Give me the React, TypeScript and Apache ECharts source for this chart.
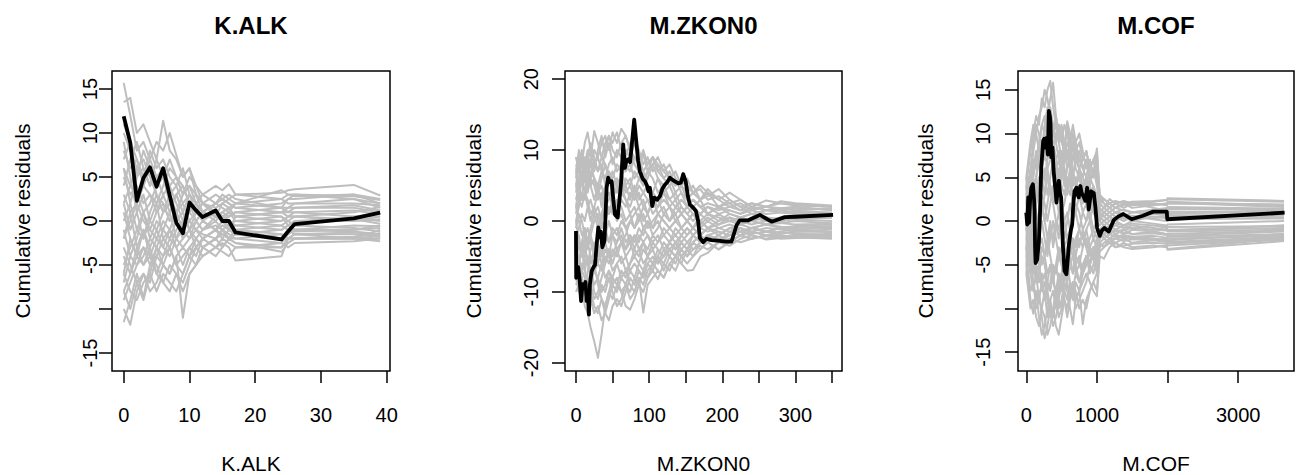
import React, { useEffect, useRef } from "react";
import * as echarts from "echarts";

// ---------------- Panel 1: K.ALK ----------------
const KALK_X = [0, 1, 2, 3, 4, 5, 6, 7, 8, 9, 10, 11, 12, 14, 15, 16, 17, 24, 25, 26, 35, 39];
const KALK_OBS = [11.9, 8.9, 2.3, 4.9, 6.1, 3.9, 6.0, 2.9, -0.2, -1.4, 2.1, 1.2, 0.45, 1.2, 0, 0, -1.3, -2.1, -1.2, -0.35, 0.3, 0.95];
const KALK_SIM = [
  [15.7, 12, 8, 9, 7, 5, 6, 4, 5, 3, 4, 3, 2, 1.5, 2, 2.5, 3, 3.2, 3.5, 3.6, 4.1, 2.9],
  [13.5, 14, 10, 11, 9, 7, 11.4, 8, 7, 5, 6, 4, 3, 2, 3, 2.5, 2, 1.5, 2.5, 2.5, 3, 2],
  [-11.5, -9, -6, -8.7, -5, -3, -4, -2, -3, -2, -1, -2, -3, -2, -1.5, -2, -2.5, -3.5, -2.5, -2, -2, -2.3],
  [-10, -11.8, -8, -6, -7, -4, -5, -6, -4, -11, -6, -5, -4, -3, -2.5, -3, -4.5, -4, -2, -1.5, -1.5, -1.8],
  [8, 6, 7, 5, 8, 6, 7, 5, 4, 6, 3, 2, 3, 4, 3.5, 4.2, 3, 2.5, 2, 2, 2.5, 1.5],
  [-8, -6, -4, -5, -3, -6, -4, -3, -5, -4, -3, -2, -1, 0, -1, -0.5, -1, -2, -1.5, -1, -1, -0.8],
  [5, 3, 4, 2, 3, 1, 2, 0, 1, -1, 0, 1, 0.5, 1, 0, 0.5, 1, 1.5, 1, 1, 1.2, 0.8],
  [-5, -3, -1, -2, 0, -1, 1, 2, 0, 1, -1, 0, -1, -0.5, -1, -1.5, -2, -2.5, -1.5, -1, -1.2, -1.5],
  [2, 4, 6, 5, 7, 9, 8, 10, 7.5, 5, 6, 3, 2, 3, 2.5, 2, 1.5, 1, 1, 1.5, 1.8, 1.2],
  [-3, -5, -7, -6, -8, -7, -5, -6, -4, -3, -4, -3, -2, -1, -2, -1, -0.5, 0, 0.5, 0.5, 0.2, -0.3],
  [0, 2, -1, 1, -2, 0, -1, 1, -2, -3, -2, -1, 0, -1, 0, -0.5, 0, 0.5, -0.5, 0, 0.3, 0],
  [7, 9, 5, 6, 4, 5, 3, 4, 2, 0, 1, 2, 1, 2, 1.5, 1, 2, 2.5, 3, 3, 2.8, 2.4],
  [-6, -8, -9, -7, -6, -8, -6, -7, -8, -6, -4, -5, -3, -2, -3, -2, -1.5, -2, -1, -0.5, -0.8, -1.2],
  [3, 1, 2, 0, -1, -2, -3, -1, -2, 0, 1, 0, 1, 0.5, 1, 1.5, 0.5, 0, 0.5, 1, 0.5, 0.5],
  [-2, 0, 2, 4, 3, 2, 4, 6, 5, 3, 4, 2, 1, 0, 1, 0.5, 1, 0.5, 0, -0.5, 0.5, 0.8],
  [10, 8, 6, 7, 5, 3, 2, 0, 1, 2, 0, -1, -2, -1, -1.5, -2, -1, -1.5, -2, -2, -2, -2],
  [-7, -4, -5, -3, -4, -2, 0, -1, -3, -5, -3, -4, -2, -3, -2, -2.5, -3, -3, -2, -1.5, -2, -1],
  [6, 4, 3, 1, 2, 4, 5, 3, 4, 2, 3, 1, 2, 1, 0.5, 1, 0, -0.5, 0, 0.5, 1, 1.6],
  [-9, -7, -5, -4, -2, -3, -1, -2, 0, -2, -1, -3, -2, -1, -0.5, -1, -1.5, -1, -0.5, -1, -0.5, -0.6],
  [1, -2, -4, -3, -5, -4, -2, -3, -1, 0, 2, 1, 0, 1, 0.5, 0, -0.5, -1, -0.5, 0, 0, 0.2],
  [4, 7, 9, 6, 4, 7, 5, 7, 5, 4, 2, 3, 1, 2, 2.5, 3, 2.5, 1.5, 1.5, 2, 2, 1.8],
  [-4, -6, -3, -1, -4, -5, -7, -5, -6, -7, -5, -3, -4, -3, -3.5, -4, -3, -2.5, -3, -2.5, -2.3, -2],
  [9, 5, 1, 3, 0, 2, -2, -1, 1, -1, -2, 0, -1, 0.5, 0, -1, 0.5, 1, 1.5, 1.5, 1.5, 1],
  [-1, -4, -2, 1, -1, 1, 3, 1, 3, 1, -1, 1, 2, 0.5, 2, 1.5, 2, 3.5, 3, 2.8, 3, 2.5],
  [6, 2, 5, 8, 6, 3, 1, 3, 1, 3, 5, 4, 2, 1, 0, -1, -1.5, -2, -1, -1.5, -1.3, -1.6],
  [-8, -10, -7, -9, -6, -3, -5, -3, -5, -6, -4, -2, -3, -2, -1, -2, -2, -1.5, -2.5, -2, -1.8, -1.4],
  [2, -1, 1, -2, 1, 3, 1, 2, 3, 4, 2, 0, 1, 2, 2.5, 2, 1.5, 2, 2.5, 3, 2.5, 2],
  [-6, -2, -4, -1, -3, -1, -3, -4, -2, -1, 0, -1, -1.5, -2, -1, -2, -1, -0.5, -1, -1.2, -1, -0.5],
  [11, 9, 7, 4, 6, 4, 5, 2, 3, 1, 3, 2, 0, -1, 0, 1, 0.5, 1, 0.5, 0.5, 0, 0.5],
  [-2, 1, -3, -5, -4, -6, -7, -8, -6, -8, -6, -5, -3, -4, -3, -2, -2.5, -3, -2, -2, -2, -1.7],
];
const KALK_XTICKS = [0, 10, 20, 30, 40];
const KALK_YTICKS = [-15, -10, -5, 0, 5, 10, 15];
const KALK_YLABELS = [-15, -5, 0, 5, 10, 15];

// ---------------- Panel 2: M.ZKON0 ----------------
const ZKON_OBS_X = [0, 0.3, 2, 3, 5, 7, 9, 11, 13, 14.6, 16, 17.7, 19, 21.4, 24, 26, 28.3, 30.5, 32, 34, 36, 39, 41.9, 44, 46, 48.8, 51, 53.3, 57, 59, 61.5, 64.6, 67, 69, 71.5, 74, 76, 79.6, 82.8, 85, 87.4, 91, 94.3, 97, 99, 101, 104.3, 107, 111, 114.8, 118, 121.6, 125, 128.4, 132, 135.2, 140, 143.4, 146.6, 150, 153, 155.7, 160, 164, 167, 169.4, 174, 178.5, 185, 196.7, 205, 212.6, 216, 219.5, 224, 235.5, 251.4, 267.4, 285.5, 300, 351.5];
const ZKON_OBS_Y = [-1.4, -8, -7, -6.5, -8.2, -11.3, -8.9, -9.3, -8.6, -11.3, -10, -13.2, -9, -7.1, -6.5, -6.2, -3.3, -0.9, -2.3, -1.5, -3.7, -2.8, 4.7, 6.1, 5.5, 5.6, 3, 0.9, 0.5, 2.5, 5.2, 10.8, 7.5, 8.5, 8.7, 8.3, 10.4, 14.3, 10.8, 8.5, 7, 6, 5.6, 5, 4.2, 4.7, 2.1, 3.3, 3, 3.5, 4.5, 5.1, 5.5, 6.1, 5.8, 5.6, 5.3, 5.4, 6.6, 5.6, 3.5, 2.3, 1.9, 1.4, 0, -2.4, -3.0, -2.5, -2.7, -2.8, -2.9, -2.9, -1.8, -0.6, 0.1, 0.1, 0.85, -0.1, 0.55, 0.6, 0.85];
const ZKON_X = [0, 4, 8, 12, 16, 20, 25, 30, 35, 40, 45, 50, 56, 62, 68, 74, 80, 86, 92, 98, 105, 112, 120, 128, 136, 144, 152, 160, 170, 180, 195, 210, 225, 240, 260, 280, 300, 350];
const ZKON_SIM = [
  [6, 9, 8, 11, 12.5, 10, 8, 9, 7, 10, 12, 11, 12.5, 10, 9, 11, 12, 10, 8, 9, 7, 8, 6, 7, 5, 6, 5, 4, 4.5, 3, 3.5, 2.5, 3, 2, 2.9, 2.5, 2.2, 2],
  [-8, -10, -9, -12, -13, -15, -17, -19.3, -16, -12, -10, -8, -9, -7, -8, -6, -5, -6, -4, -5, -3, -4, -5, -3, -4, -2, -3, -4, -3, -2, -2.5, -2, -1.5, -2, -2.5, -2, -2.3, -2.5],
  [3, 5, 7, 6, 9, 8, 10, 9, 11, 12, 10, 12.5, 11, 13, 12, 10, 9, 8, 9.4, 7, 8, 6, 5, 6, 4, 5, 3, 4, 3, 4.5, 3, 2, 2.5, 1.5, 2, 1.8, 1.5, 1.8],
  [-6, -8, -10, -9, -11, -10, -12, -13, -11, -12, -10, -11, -9, -10, -12, -12.5, -11, -9, -10, -8, -7, -8.2, -6, -7, -5, -6, -7, -6.9, -5, -4.5, -3, -3.5, -2.5, -2, -2.6, -2.4, -2.2, -2.3],
  [0, 2, 4, 3, 5, 7, 6, 4, 5, 3, 4, 2, 1, 3, 2, 4, 3, 5, 4, 3, 2, 3, 1, 2, 0, 1, 2, 1, 0, 1, 0.5, 0, 0.5, 1, 0.5, 0, 0.3, 0.5],
  [-2, -4, -3, -6, -5, -7, -9, -8, -10, -9, -7, -8, -6, -5, -7, -6, -4, -5, -3, -4, -2, -3, -1, -2, -3, -2, -1, -2, -1, 0, -1, -0.5, -1, -1.5, -1, -1.2, -1.5, -1.2],
  [8, 7, 9, 8, 10, 9, 12.7, 11, 9, 8, 6, 7, 5, 6, 4, 5, 3, 4, 2, 3, 1, 2, 3, 2, 1, 2, 1, 0, 1, 2, 1.5, 2, 1.5, 2.5, 2, 1.5, 1.2, 1],
  [-5, -7, -8, -10, -9, -11, -13, -12, -14, -13, -11, -9, -10, -8, -9, -7, -8, -6, -7, -5, -6, -4, -5, -3, -4, -3, -4, -3, -2, -3, -2, -3, -2, -1.5, -2, -1.5, -1.8, -2],
  [2, 0, -2, -1, -3, -2, 0, 1, -1, 0, 2, 1, 3, 2, 0, 1, -1, 0, 1, -1, 0, 1, 0, -1, 0, 1, 0, 1, 0, -1, 0, 0.5, 0, -0.5, 0, 0.5, 0.2, 0],
  [5, 8, 6, 9, 7, 8, 6, 5, 7, 6, 8, 9, 7, 8, 10, 9, 11, 9, 7, 8, 9, 7, 8, 6, 7, 5, 4, 5, 3, 4, 2, 3, 2, 1, 1.5, 1.2, 1, 0.8],
  [-4, -2, -5, -4, -6, -4, -3, -5, -4, -2, -3, -1, -2, 0, -1, -3, -2, -4, -3, -5, -4, -6, -5, -4, -5, -3, -4, -2, -3, -2, -3, -1.5, -2, -1, -1.5, -1, -0.8, -1],
  [7, 5, 3, 4, 2, 3, 1, 2, 0, 2, 1, 3, 5, 4, 6, 5, 7, 6, 5, 7, 6, 4, 5, 3, 4, 2, 1, 2, 1, 2, 1, 1.5, 1, 2, 1.5, 1.8, 2, 1.5],
  [-9, -8, -6, -7, -5, -6, -4, -6, -7, -5, -6, -4, -5, -3, -4, -2, -3, -1, -2, 0, -1, 1, 0, -1, 0, -1, -2, -1, -2, -1, -1.5, -2, -1.5, -1, -0.5, -0.8, -1, -0.7],
  [4, 6, 8, 7, 9, 6, 5, 3, 4, 2, 3, 5, 4, 6, 8, 7, 9, 8, 10, 8, 9, 7, 6, 5, 6, 4, 3, 2, 3, 1, 2, 1, 0.5, 1, 0.5, 0.3, 0.5, 0.5],
  [-7, -9, -11, -10, -8, -9, -7, -8, -6, -4, -5, -7, -6, -8, -7, -9, -10, -8, -12.9, -9, -8, -7, -8, -6, -5, -4, -5, -3, -4, -3, -4, -3, -2, -2.5, -2, -2.2, -2, -2.2],
  [1, 3, 2, 4, 3, 1, 2, 0, -2, -1, -3, -2, -4, -3, -5, -4, -2, -3, -1, -2, -3, -2, -4, -3, -2, -3, -2, -1, -2, -3, -2, -1, -1.5, -1, -0.5, -1, -0.7, -0.5],
  [9, 7, 5, 6, 4, 6, 8, 7, 9, 11, 12, 10, 9, 11, 12, 10, 8, 7, 6, 7, 9, 8, 7, 6, 5, 6, 5, 4, 3, 3.5, 4.5, 3, 2, 2.5, 2, 2.8, 2.5, 2.2],
  [-1, 1, 0, -2, -1, -3, -5, -4, -6, -8, -7, -9, -8, -10, -9, -11, -10, -8, -9, -7, -6, -7, -8, -6, -7, -5, -6, -5, -4, -3, -4, -3, -2, -2.5, -2, -2.5, -2.4, -2.3],
  [-3, -1, 1, 0, 2, 0, 2, 4, 3, 5, 7, 6, 8, 7, 5, 6, 4, 2, 3, 1, 3, 2, 4, 3, 2, 3, 2, 3, 2, 1, 0, 1, 0.5, 0, -0.5, 0, 0.3, 0.5],
  [-10, -9, -7, -8, -10, -9, -11, -10, -8, -6, -4, -5, -3, -2, -4, -3, -5, -4, -6, -5, -6, -5, -3, -4, -3, -5, -4, -3, -2, -1, -2, -1, -0.5, -1, -1.5, -1, -1.3, -1.6],
  [2, 5, 3, 7, 5, 9, 7, 10, 12, 9, 11, 8, 10, 9, 7, 8, 6, 7, 5, 6, 8, 9, 7, 8, 6, 5, 6, 4, 5, 4, 3, 4, 3, 2, 1.5, 1.5, 1.8, 1.6],
  [-3, -6, -4, -7, -9, -7, -10, -11, -9, -10, -8, -10, -12, -11, -9, -10, -8, -9, -7, -8, -6, -5, -7, -5, -6, -4, -5, -4, -3.5, -4, -3, -2.5, -3, -2.5, -2, -2.2, -2, -1.8],
  [5, 3, 6, 4, 7, 5, 3, 5, 2, 4, 6, 4, 2, 4, 3, 1, 2, 0, 2, 1, 3, 1, 2, 0, 1, -1, 0, -1, 0, -1, -0.5, 0, -0.5, 0.5, 0, -0.3, 0, -0.3],
  [-7, -5, -7, -5, -3, -5, -7, -6, -4, -6, -4, -6, -4, -6, -5, -7, -6, -7, -8, -6, -7, -5, -6, -4, -5, -6, -4, -5, -3, -2, -3, -2, -1, -1.5, -2, -1.8, -1.5, -1.5],
  [-4, -6, -3, -1, -3, -1, 1, -1, 1, 3, 1, 2, 0, 1, -1, 0, 1, 2, 0, 1, -1, 0, -2, -1, -2, -1, 0, -1, 1, 0, 1, 0, 0.5, 0, 0.5, 0, 0.5, 0.8],
  [9, 8, 10, 7, 9, 11, 9, 7, 8, 5, 7, 5, 6, 4, 5, 3, 5, 3, 4, 5, 4, 6, 4, 5, 3, 4, 2, 3, 2, 1, 2, 1.5, 1, 1.5, 1, 1.2, 1.4, 1.2],
  [-6, -3, -5, -2, -4, -2, -4, -2, 0, -2, 0, -2, -1, -3, -2, 0, -1, 1, -1, 0, -2, -1, 1, 0, 2, 1, 0, 1, -0.5, 0.5, -0.5, 0.5, -0.5, 0, -0.5, -0.3, -0.5, -0.4],
  [0, -3, -5, -3, -6, -8, -6, -9, -11, -13, -14, -12, -11, -12, -10, -8, -9, -7, -8, -6, -5, -6, -4, -5, -3, -4, -3, -2, -3, -2, -1.5, -2, -1.5, -1, -1.5, -1, -1.2, -1],
  [7, 10, 8, 6, 8, 5, 6, 4, 6, 8, 6, 4, 6, 5, 3, 2, 4, 6, 7, 5, 4, 3, 4, 2, 3, 1, 2, 3, 2, 2.5, 2, 2.5, 1.5, 1.8, 2, 2.5, 2.3, 2],
  [-8, -6, -8, -10, -7, -5, -6, -3, -5, -3, -5, -2, -3, -1, -3, -2, -4, -2, -3, -2, -4, -3, -2, -3, -1, -2, -1, -2, -1, -1.5, -1, -1.5, -1, -1.8, -1.5, -1.6, -1.8, -2],
];
const ZKON_XTICKS = [0, 50, 100, 150, 200, 250, 300, 350];
const ZKON_XLABELS = [0, 100, 200, 300];
const ZKON_YTICKS = [-20, -10, 0, 10, 20];

// ---------------- Panel 3: M.COF ----------------
const COF_OBS_X = [0, 14, 28, 40, 55, 71, 94, 110, 118, 125, 132, 155, 179, 195, 212, 225, 240, 255, 273, 287, 306, 320, 334, 344, 353, 372, 385, 400, 414, 428, 445, 462, 478, 494, 518, 541, 569, 589, 603, 617, 633, 650, 667, 683, 711, 727, 744, 766, 785, 805, 838, 862, 885, 918, 956, 980, 1003, 1041, 1070, 1106, 1168, 1239, 1300, 1374, 1493, 1650, 1798, 1990, 1996, 3658];
const COF_OBS_Y = [0.95, -0.4, 2.7, -0.2, 2.5, 3.8, 4.2, 2.5, 1.1, -3, -4.8, -4.4, -2.3, 1, 6.1, 7.5, 9.2, 9.4, 8.4, 9.5, 7.6, 12.6, 12, 11.1, 7.3, 8.4, 6, 4.6, 3.5, 2.1, 3.5, 4.6, 3.2, 2.7, -2.7, -5.7, -6.1, -4.2, -2.8, -1.9, -1, -0.4, 2, 3.4, 3.8, 3, 2.7, 4.0, 3.2, 2.9, 2.3, 3.8, 1.3, 3.4, 3.2, 1.5, -0.8, -1.7, -1.1, -0.8, -1.2, 0.1, 0.5, 0.8, 0.2, 0.6, 1.07, 1.07, 0.2, 0.95];
const COF_X = [0, 30, 60, 100, 140, 180, 220, 260, 300, 340, 380, 420, 460, 500, 540, 580, 620, 660, 700, 750, 800, 850, 900, 950, 1000, 1040, 1100, 1180, 1260, 1380, 1500, 1800, 1990, 2000, 3650];
const COF_SIM = [
  [4, 6, 8, 10, 12, 11, 14, 13, 15, 16, 13, 11, 9, 10, 8, 11, 9, 7, 8, 6, 5, 7, 6, 7, 8, 2.5, 2, 1.5, 2, 2.3, 2, 2.2, 2.4, 2.6, 2.3],
  [-5, -7, -9, -10.6, -8, -11, -13, -12, -10, -9, -11, -8, -10, -9, -7, -8, -10, -11.8, -9, -8, -7, -6, -7, -8, -8.6, -4, -4.3, -3, -2.5, -3, -3.2, -3, -2.8, -3.3, -2.3],
  [1, 3, 5, 7, 6, 9, 11, 10, 12, 14, 15.8, 12, 10, 11, 9, 8, 7, 9, 6, 5, 4, 5, 3, 4, 2, 1, 1.5, 1, 1.5, 1.2, 1, 1.3, 1.5, 1.6, 1.4],
  [-3, -5, -4, -7, -9, -8, -11, -13.4, -12, -10, -11, -9, -7, -8, -6, -7, -5, -6, -4, -5, -6, -4, -5, -3, -4, -2, -1.5, -2, -2.5, -2, -1.8, -2, -2.2, -2.4, -1.8],
  [2, 4, 3, 6, 8, 7, 9, 8, 10, 9, 8, 10, 11, 9, 8, 11.4, 10, 8, 9, 7, 6, 5, 4, 6, 5, 1.5, 1, 0.5, 1, 0.8, 0.5, 0.8, 1, 1.1, 1],
  [-6, -4, -6, -5, -7, -6, -4, -5, -7, -8, -6, -9, -11, -10, -8, -9, -7, -8, -10, -9, -8, -7, -5, -6, -4, -2.5, -3, -2, -1.5, -2, -2.5, -2.2, -2, -2.2, -1.5],
  [5, 3, 6, 9, 11, 10, 8, 11, 13, 12, 10, 9, 11, 10, 7, 8, 6, 5, 7, 6, 4, 3, 5, 4, 3, 1, 0.5, 1, 0.5, 0.3, 0.5, 0.2, 0, 0.2, 0.3],
  [0, -2, 0, -3, -5, -7, -6, -9, -8, -10, -12, -11, -9, -10, -8, -7, -9, -8, -6, -7, -5, -4, -6, -5, -3, -1, -2, -1.5, -1, -1.5, -1, -1.2, -1.5, -1.7, -1.2],
  [3, 1, -1, 1, 3, 5, 4, 6, 5, 3, 4, 2, 3, 1, 2, 4, 3, 5, 4, 6, 3, 4, 2, 1, 2, 0.5, 0, 0.5, 1, 0.5, 0, 0.5, 0.3, 0.5, 0.6],
  [-4, -6, -8, -7, -10, -9, -7, -6, -8, -7, -5, -6, -4, -5, -3, -4, -2, -3, -5, -4, -6, -5, -3, -2, -3, -1.5, -1, -0.5, -1, -0.5, -0.8, -0.5, -0.8, -1, -0.8],
  [-1, 1, 3, 2, 4, 3, 6, 5, 7, 9, 8, 6, 7, 5, 6, 4, 5, 7, 8, 6, 7, 8, 6, 7, 6, 2, 2.5, 2, 1.5, 2, 1.5, 1.8, 2, 2.2, 1.8],
  [4, 2, 0, -2, -1, -3, -2, -4, -3, -1, -2, 0, -1, 1, 0, -2, -1, -3, -2, -1, -2, -3, -2, -1, -2, -1, -0.5, -1, -0.5, -0.8, -0.5, -0.8, -1, -1.1, -0.5],
  [-2, 0, 2, 4, 5, 7, 8, 7, 9, 11, 10, 12, 10, 9, 11, 10, 8, 9, 7, 8, 6, 7, 5, 6, 4, 2, 1.5, 2, 1.5, 1.8, 2, 1.5, 1.2, 1.4, 1.2],
  [-5, -3, -1, -4, -6, -5, -8, -7, -9, -11, -10, -12, -13, -11, -9, -10, -8, -7, -9, -8, -11.8, -9, -8, -7, -6, -3, -2.5, -2, -3, -2.5, -3, -2.8, -3, -3.2, -2],
  [1, -1, 2, 0, -2, 1, 3, 2, 0, 2, 4, 3, 1, 2, 0, 1, -1, 0, 2, 1, -1, 0, 1, -1, 0, -0.5, 0, 0.5, 0, -0.5, 0, -0.3, -0.5, -0.4, 0],
  [5, 7, 9, 11, 10, 12, 13, 15, 14, 12, 10, 11, 9, 7, 8, 6, 7, 5, 4, 6, 5, 4, 6, 5, 7, 3, 2, 1.5, 2, 1.5, 2, 1.8, 2, 2.1, 1.6],
  [-1, -3, -5, -4, -6, -5, -3, -4, -2, -4, -6, -5, -7, -6, -4, -5, -3, -4, -6, -5, -3, -2, -4, -3, -5, -2, -1.5, -1, -1.5, -1, -1.5, -1.2, -1.5, -1.8, -1.5],
  [2, 0, 1, -1, 2, 4, 6, 5, 3, 5, 7, 6, 4, 5, 7, 9, 8, 10, 8, 9, 7, 8, 6, 7, 5, 1, 0.5, 0, 0.5, 0, 0.5, 0.3, 0.5, 0.6, 0.8],
  [-3, -1, -3, -6, -4, -2, -5, -4, -6, -5, -7, -8, -6, -7, -5, -6, -4, -2, -3, -1, -2, -1, -3, -4, -2, -1, -1.5, -2, -2, -1.8, -2, -2, -2.2, -2.5, -2.2],
  [0, 2, 4, 3, 1, -1, 1, 3, 5, 4, 2, 4, 6, 4, 3, 5, 4, 2, 3, 4, 2, 3, 4, 2, 3, 0, 1, 0.5, 0, 0.5, 1, 0.8, 0.8, 0.9, 1],
  [3, 5, 2, 5, 7, 9, 7, 10, 8, 11, 9, 7, 8, 6, 9, 7, 9, 11, 9, 10, 8, 6, 7, 5, 6, 2, 1.5, 2.5, 2, 2.2, 1.8, 2, 1.8, 2, 1.9],
  [-2, -4, -6, -8, -6, -9, -10, -8, -11, -9, -8, -10, -8, -6, -9, -11, -9, -7, -8, -10, -9, -10, -8, -7, -8, -3.5, -3, -2.5, -3, -2.8, -2.6, -2.5, -2.6, -2.8, -2.1],
  [4, 2, 5, 8, 10, 8, 11, 12, 10, 13, 11, 9, 7, 8, 6, 4, 6, 4, 5, 3, 4, 2, 3, 1, 0, 0.5, 1, 1.5, 1, 1.3, 1, 1.2, 1.4, 1.5, 1.3],
  [-4, -2, -4, -2, -4, -2, 0, -2, -4, -2, 0, -2, -4, -3, -5, -3, -5, -4, -2, -3, -1, -3, -5, -4, -6, -2.5, -2, -1.5, -1, -1.3, -1.5, -1.4, -1.6, -1.5, -1.1],
  [0, 2, 0, 3, 5, 3, 6, 8, 6, 7, 9, 7, 5, 7, 5, 3, 5, 3, 1, 3, 1, 2, 0, 2, 1, 0, -0.5, 0, 0.5, 0.3, 0.6, 0.5, 0.6, 0.7, 0.4],
  [-6, -8, -10, -9, -11, -12, -10, -11, -13, -12, -10, -8, -9, -7, -5, -6, -4, -6, -5, -7, -6, -4, -5, -3, -4, -1.5, -2, -2.5, -2, -2.3, -2.1, -2.2, -2.4, -2.6, -1.9],
  [2, 4, 6, 4, 2, 4, 2, 0, 2, 4, 2, 5, 3, 6, 4, 6, 8, 6, 4, 5, 3, 5, 7, 5, 8.3, 3, 2.5, 2, 2.3, 2, 2.2, 2.3, 2.4, 2.5, 2.2],
  [-1, 1, -2, -4, -2, 0, 2, 0, -2, 0, -3, -1, 1, -1, -3, -2, -4, -2, -4, -2, -3, -1, 0, -2, -1, -1, -0.5, -1, -1.2, -1, -0.8, -1, -1.1, -1.2, -1],
  [5, 3, 1, 3, 5, 7, 5, 3, 6, 4, 2, 0, -2, 0, -2, 0, 2, 0, 1, -1, 1, 0, 2, 3, 1, 0.5, 0, -0.5, -0.3, -0.5, -0.3, -0.5, -0.6, -0.7, -0.6],
  [-3, -5, -3, -1, -3, -5, -7, -9, -7, -5, -7, -5, -3, -5, -7, -5, -7, -9, -7, -8, -6, -5, -3, -4, -2, -1, -1.2, -1.5, -1.8, -1.6, -1.8, -1.7, -1.9, -2, -1.7],
];
const COF_XTICKS = [0, 1000, 2000, 3000];
const COF_XLABELS = [0, 1000, 3000];
const COF_YTICKS = [-15, -10, -5, 0, 5, 10, 15];
const COF_YLABELS = [-15, -5, 0, 5, 10, 15];

const TITLES = ["K.ALK", "M.ZKON0", "M.COF"];
const Y_TITLE = "Cumulative residuals";

const FONT = "'Liberation Sans', Arial, Helvetica, sans-serif";
const GREY = "#BEBEBE";

function lineSeries(xs: number[], ys: number[], idx: number, color: string, width: number, z: number) {
  return {
    type: "line",
    xAxisIndex: idx,
    yAxisIndex: idx,
    data: xs.map((x, i) => [x, ys[i]]),
    symbol: "none",
    showSymbol: false,
    silent: true,
    z,
    lineStyle: { color, width, join: "round" },
  };
}

const PANELS = [
  { left: 112, width: 278, xmin: -1.78, xmax: 40.5, ymin: -17.05, ymax: 17.05, xticks: KALK_XTICKS, xlabels: KALK_XTICKS, yticks: KALK_YTICKS, ylabels: KALK_YLABELS, ylabMargin: 12, ytitleX: 22 },
  { left: 565, width: 277, xmin: -15, xmax: 363.7, ymin: -21.15, ymax: 21.15, xticks: ZKON_XTICKS, xlabels: ZKON_XLABELS, yticks: ZKON_YTICKS, ylabels: ZKON_YTICKS, ylabMargin: 24, ytitleX: 473 },
  { left: 1018, width: 276, xmin: -117, xmax: 3791, ymin: -17.15, ymax: 17.15, xticks: COF_XTICKS, xlabels: COF_XLABELS, yticks: COF_YTICKS, ylabels: COF_YLABELS, ylabMargin: 25, ytitleX: 925 },
];

export default function App() {
  const ref = useRef<HTMLDivElement>(null);
  useEffect(() => {
    if (!ref.current) return;
    const chart = echarts.init(ref.current, null, { renderer: "svg" });
    const top = 71;
    const height = 300;

    const grid = PANELS.map((p) => ({
      left: p.left,
      top,
      width: p.width,
      height,
      show: true,
      borderColor: "#000",
      borderWidth: 1.5,
      backgroundColor: "transparent",
      containLabel: false,
    }));

    const xAxis = PANELS.map((p, i) => ({
      gridIndex: i,
      type: "value",
      min: p.xmin,
      max: p.xmax,
      position: "bottom",
      axisLine: { show: false, onZero: false },
      splitLine: { show: false },
      axisTick: { show: true, length: 12, lineStyle: { color: "#000", width: 1.5 }, customValues: p.xticks },
      axisLabel: { customValues: p.xlabels, margin: 34, fontSize: 20, color: "#000", fontFamily: FONT, formatter: (v: number) => String(v) },
    }));

    const yAxis = PANELS.map((p, i) => ({
      gridIndex: i,
      type: "value",
      min: p.ymin,
      max: p.ymax,
      position: "left",
      axisLine: { show: false, onZero: false },
      splitLine: { show: false },
      axisTick: { show: true, length: 13, lineStyle: { color: "#000", width: 1.5 }, customValues: p.yticks },
      axisLabel: { customValues: p.ylabels, rotate: 90, margin: p.ylabMargin, fontSize: 20, color: "#000", fontFamily: FONT, formatter: (v: number) => String(v) },
    }));

    const series: any[] = [];
    KALK_SIM.forEach((ys) => series.push(lineSeries(KALK_X, ys, 0, GREY, 2, 2)));
    ZKON_SIM.forEach((ys) => series.push(lineSeries(ZKON_X, ys, 1, GREY, 2, 2)));
    COF_SIM.forEach((ys) => series.push(lineSeries(COF_X, ys, 2, GREY, 2, 2)));
    series.push(lineSeries(KALK_X, KALK_OBS, 0, "#000", 3.8, 5));
    series.push(lineSeries(ZKON_OBS_X, ZKON_OBS_Y, 1, "#000", 3.8, 5));
    series.push(lineSeries(COF_OBS_X, COF_OBS_Y, 2, "#000", 3.8, 5));

    const graphic: any[] = [];
    PANELS.forEach((p, i) => {
      const cx = p.left + p.width / 2;
      graphic.push({
        type: "text", x: cx, y: 25,
        style: { text: TITLES[i], font: `bold 24px ${FONT}`, fill: "#000", textAlign: "center", textVerticalAlign: "middle" },
      });
      graphic.push({
        type: "text", x: cx, y: 463,
        style: { text: TITLES[i], font: `21px ${FONT}`, fill: "#000", textAlign: "center", textVerticalAlign: "middle" },
      });
      graphic.push({
        type: "text", x: p.ytitleX, y: top + height / 2, rotation: Math.PI / 2,
        style: { text: Y_TITLE, font: `21px ${FONT}`, fill: "#000", textAlign: "center", textVerticalAlign: "middle" },
      });
    });

    chart.setOption({
      animation: false,
      backgroundColor: "#fff",
      grid,
      xAxis,
      yAxis,
      series,
      graphic,
    });
    return () => chart.dispose();
  }, []);

  return <div ref={ref} style={{ position: "absolute", left: 0, top: 0, width: 1298, height: 475 }} />;
}
